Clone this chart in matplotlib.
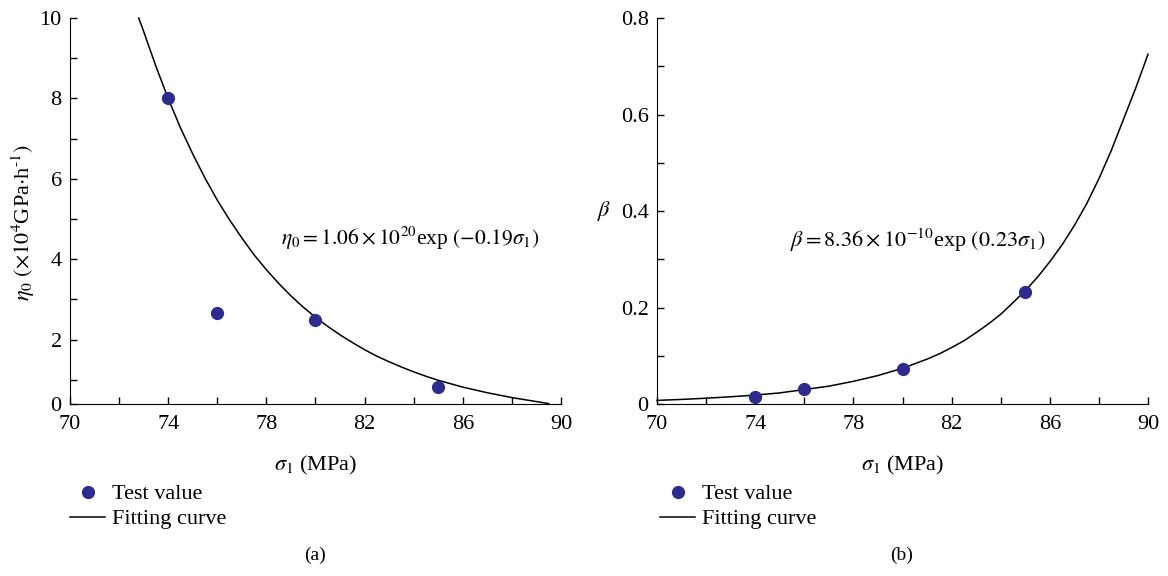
import matplotlib
matplotlib.use("Agg")
import matplotlib.pyplot as plt
from matplotlib.ticker import FixedLocator

plt.rcParams['font.family'] = ['Liberation Serif', 'DejaVu Serif']
plt.rcParams['mathtext.fontset'] = 'stix'

# ---- data (a) ----
sigma_test_a = [74, 76, 80, 85]
eta_test = [8.0, 2.67, 2.48, 0.83]
sigma_fit_a = [72.8, 73, 73.5, 74, 74.5, 75, 75.5, 76, 76.5, 77, 77.5, 78, 78.5, 79, 79.5,
               80, 80.5, 81, 81.5, 82, 82.5, 83, 83.5, 84, 84.5, 85, 86, 87, 88, 89, 89.5]
eta_fit = [10.0, 9.67, 8.8, 8.0, 7.27, 6.62, 6.02, 5.47, 4.98, 4.53, 4.11, 3.74, 3.40, 3.09,
           2.81, 2.56, 2.33, 2.12, 1.93, 1.75, 1.59, 1.45, 1.32, 1.20, 1.09, 0.99, 0.82, 0.68,
           0.56, 0.46, 0.41]

# ---- data (b) ----
sigma_test_b = [74, 76, 80, 85]
beta_test = [0.014, 0.031, 0.073, 0.233]
sigma_fit_b = [70, 71, 72, 73, 74, 75, 76, 77, 78, 79, 80, 81, 81.5, 82, 82.5, 83, 83.5, 84,
               84.5, 85, 85.5, 86, 86.5, 87, 87.5, 88, 88.5, 89, 89.5, 90]
beta_fit = [0.0075, 0.0095, 0.012, 0.015, 0.0185, 0.023, 0.030, 0.037, 0.047, 0.059, 0.074,
            0.093, 0.104, 0.117, 0.131, 0.148, 0.166, 0.186, 0.21, 0.235, 0.263, 0.295, 0.33,
            0.37, 0.415, 0.467, 0.525, 0.59, 0.655, 0.725]

x_major = [70, 74, 78, 82, 86, 90]
x_minor = [72, 76, 80, 84, 88]

dot_color = '#2e2b8f'
fs = 16

fig = plt.figure(figsize=(11.68, 5.76), dpi=100)
axa = fig.add_axes([0.0599, 0.2986, 0.4204, 0.6701])
axb = fig.add_axes([0.5625, 0.2986, 0.4204, 0.6701])

for ax in (axa, axb):
    ax.spines['top'].set_visible(False)
    ax.spines['right'].set_visible(False)
    ax.set_xlim(70, 90)
    ax.xaxis.set_major_locator(FixedLocator(x_major))
    ax.xaxis.set_minor_locator(FixedLocator(x_minor))
    ax.tick_params(which='both', direction='in', length=5, width=1, labelsize=fs)
    ax.tick_params(axis='x', pad=8)
    ax.tick_params(axis='y', pad=6)
    ax.set_xlabel(r'$\sigma_1$ (MPa)', fontsize=fs, labelpad=14)

# (a)
axa.plot(sigma_fit_a, eta_fit, color='black', lw=1.1, label='Fitting curve', clip_on=False)
axa.plot(sigma_test_a, eta_test, 'o', color=dot_color, ms=8.5, label='Test value', zorder=3)
axa.set_ylim(0.4, 10)
axa.yaxis.set_major_locator(FixedLocator([0.4, 2, 4, 6, 8, 10]))
axa.set_yticklabels(['0', '2', '4', '6', '8', '10'])
axa.yaxis.set_minor_locator(FixedLocator([1, 3, 5, 7, 9]))
axa.set_ylabel(r'$\eta_0$ $(\times 10^4$GPa$\cdot$h$^{\text{-}1})$', fontsize=fs)
axa.yaxis.set_label_coords(-0.068, 0.47)
axa.text(83.85, 4.53, r'$\eta_0 = 1.06 \times 10^{20}$exp $(-0.19\sigma_1)$', fontsize=fs - 0.5,
         ha='center', va='center')

# (b)
axb.plot(sigma_fit_b, beta_fit, color='black', lw=1.1, label='Fitting curve', clip_on=False)
axb.plot(sigma_test_b, beta_test, 'o', color=dot_color, ms=8.5, label='Test value', zorder=3)
axb.set_ylim(0, 0.8)
axb.yaxis.set_major_locator(FixedLocator([0, 0.2, 0.4, 0.6, 0.8]))
axb.set_yticklabels(['0', '0.2', '0.4', '0.6', '0.8'])
axb.yaxis.set_minor_locator(FixedLocator([0.1, 0.3, 0.5, 0.7]))
axb.set_ylabel(r'$\beta$', fontsize=fs, rotation=0, va='center', ha='center')
axb.yaxis.set_label_coords(-0.108, 0.5)
axb.text(80.6, 0.34, r'$\beta = 8.36 \times 10^{-10}$exp $(0.23\sigma_1)$', fontsize=fs,
         ha='center', va='center')

# legends
for ax, xpos in ((axa, 61 / 1168), (axb, 651 / 1168)):
    h, l = ax.get_legend_handles_labels()
    order = [1, 0]
    fig.legend([h[i] for i in order], [l[i] for i in order], loc='upper left',
               bbox_to_anchor=(xpos, 1 - 475 / 576), frameon=False, fontsize=fs,
               handlelength=1.6, handletextpad=0.3, labelspacing=0.2, borderaxespad=0)

fig.text(315 / 1168, 1 - 555 / 576, '(a)', fontsize=fs - 2, ha='center', va='center')
fig.text(902 / 1168, 1 - 555 / 576, '(b)', fontsize=fs - 2, ha='center', va='center')

fig.savefig('out.png', dpi=100)
